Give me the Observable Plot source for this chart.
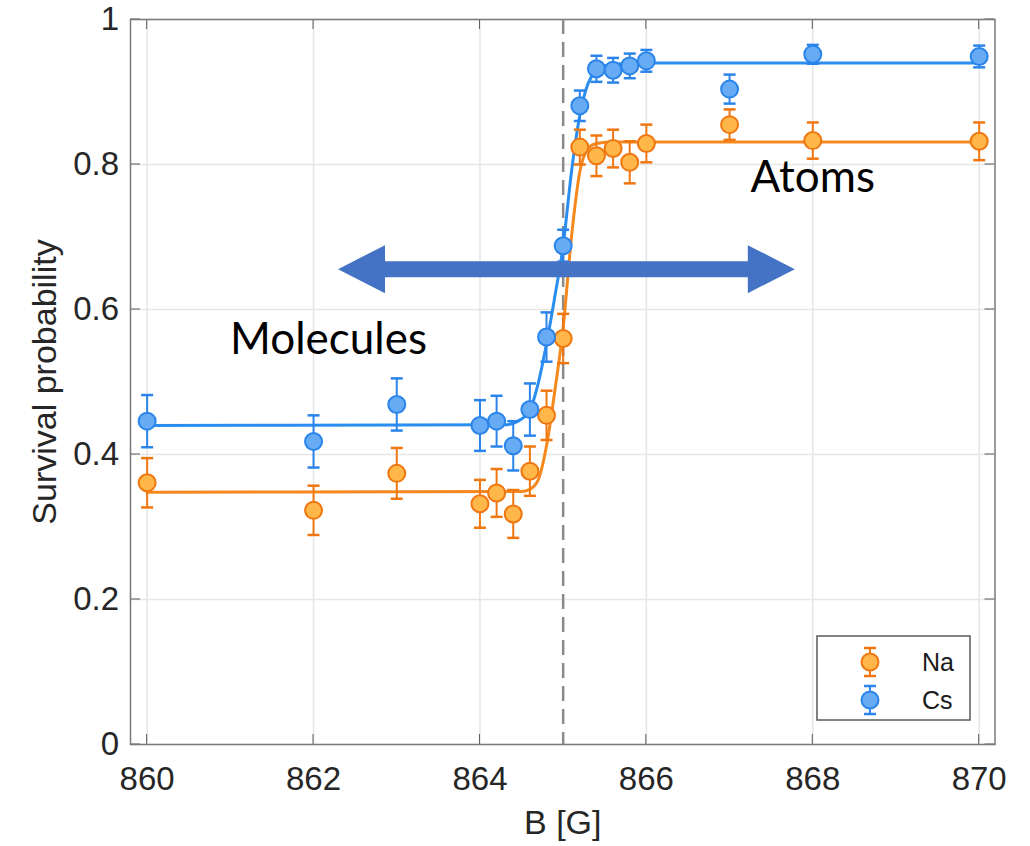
<!DOCTYPE html>
<html>
<head>
<meta charset="utf-8">
<script src="https://cdn.jsdelivr.net/npm/d3@7"></script>
<script src="https://cdn.jsdelivr.net/npm/@observablehq/plot@0.6"></script>
<style>
  body { margin: 0; background: #fff; }
  #chart svg { display: block; }
</style>
</head>
<body>
<div id="chart"></div>
<script>
// ---- data ----
const B_field = [860, 862, 863, 864, 864.2, 864.4, 864.6, 864.8, 865, 865.2, 865.4, 865.6, 865.8, 866, 867, 868, 870];
const Na_survival = [0.361, 0.323, 0.374, 0.332, 0.347, 0.318, 0.377, 0.454, 0.560, 0.824, 0.812, 0.822, 0.803, 0.829, 0.855, 0.833, 0.832];
const Na_error    = [0.034, 0.034, 0.035, 0.033, 0.033, 0.033, 0.034, 0.034, 0.034, 0.024, 0.028, 0.026, 0.029, 0.026, 0.021, 0.025, 0.026];
const Cs_survival = [0.446, 0.418, 0.469, 0.440, 0.446, 0.412, 0.462, 0.562, 0.688, 0.881, 0.932, 0.930, 0.936, 0.943, 0.904, 0.952, 0.949];
const Cs_error    = [0.036, 0.036, 0.036, 0.035, 0.035, 0.034, 0.036, 0.034, 0.022, 0.021, 0.018, 0.017, 0.017, 0.015, 0.020, 0.013, 0.015];

// fitted curves
const Na_fit_B = [860, 864.5, 864.6, 864.7, 864.8, 864.9, 865.0, 865.1, 865.2, 865.3, 865.4, 865.6, 866, 870];
const Na_fit_P = [0.348, 0.349, 0.352, 0.365, 0.412, 0.488, 0.575, 0.700, 0.790, 0.822, 0.829, 0.831, 0.831, 0.831];
const Cs_fit_B = [860, 864.3, 864.5, 864.6, 864.7, 864.8, 864.9, 865.0, 865.1, 865.2, 865.3, 865.4, 865.5, 865.7, 866, 870];
const Cs_fit_P = [0.440, 0.441, 0.449, 0.461, 0.498, 0.553, 0.618, 0.688, 0.790, 0.868, 0.912, 0.930, 0.936, 0.939, 0.940, 0.940];

const resonance_B = [865];
const xTicks = [860, 862, 864, 866, 868, 870];
const yTicks = [0, 0.2, 0.4, 0.6, 0.8, 1];
const yTickLabels = ["0", "0.2", "0.4", "0.6", "0.8", "1"];
const seriesNames = ["Na", "Cs"];
const annotations = [
  {label: "Molecules", B: 862.18, P: 0.558},
  {label: "Atoms", B: 868.0, P: 0.781}
];
const arrowSpan = {B1: 862.30, B2: 867.79, P: 0.655};

// ---- styles ----
const colors = {
  Na: {line: "#f5891e", edge: "#f0760f", fill: "#ffb74a"},
  Cs: {line: "#2a8ef0", edge: "#2a84ea", fill: "#66abf4"}
};
const font = "'Liberation Sans', Arial, Helvetica, sans-serif";
const xDomain = [859.80, 870.19];

// ---- tables ----
const Na = B_field.map((b, i) => ({B: b, P: Na_survival[i], lo: Na_survival[i] - Na_error[i], hi: Na_survival[i] + Na_error[i]}));
const Cs = B_field.map((b, i) => ({B: b, P: Cs_survival[i], lo: Cs_survival[i] - Cs_error[i], hi: Cs_survival[i] + Cs_error[i]}));
const NaFit = Na_fit_B.map((b, i) => ({B: b, P: Na_fit_P[i]}));
const CsFit = Cs_fit_B.map((b, i) => ({B: b, P: Cs_fit_P[i]}));

const capSymbol = {draw(ctx) { ctx.moveTo(-6, 0); ctx.lineTo(6, 0); }};

function seriesMarks(data, c) {
  return [
    Plot.ruleX(data, {x: "B", y1: "lo", y2: "hi", stroke: c.edge, strokeWidth: 2}),
    Plot.dot(data, {x: "B", y: "hi", symbol: capSymbol, r: 4, stroke: c.edge, strokeWidth: 2.5, fill: "none"}),
    Plot.dot(data, {x: "B", y: "lo", symbol: capSymbol, r: 4, stroke: c.edge, strokeWidth: 2.5, fill: "none"}),
  ];
}
function dotMarks(data, c) {
  return Plot.dot(data, {x: "B", y: "P", r: 8.5, fill: c.fill, stroke: c.edge, strokeWidth: 2});
}

const svgNS = "http://www.w3.org/2000/svg";
function el(tag, attrs, text) {
  const e = document.createElementNS(svgNS, tag);
  for (const k in attrs) e.setAttribute(k, attrs[k]);
  if (text != null) e.textContent = text;
  return e;
}

// inward ticks on all four sides, placed through the scales
function tickMarks(index, scales, values, dimensions) {
  const g = el("g", {stroke: "#5a5a5a", "stroke-width": 1});
  const top = dimensions.marginTop, bottom = dimensions.height - dimensions.marginBottom;
  const left = dimensions.marginLeft, right = dimensions.width - dimensions.marginRight;
  const L = 10;
  for (const t of xTicks) {
    const x = scales.x(t);
    g.appendChild(el("line", {x1: x, x2: x, y1: bottom, y2: bottom - L}));
    g.appendChild(el("line", {x1: x, x2: x, y1: top, y2: top + L}));
  }
  for (const t of yTicks) {
    const y = scales.y(t);
    g.appendChild(el("line", {x1: left, x2: left + L, y1: y, y2: y}));
    g.appendChild(el("line", {x1: right, x2: right - L, y1: y, y2: y}));
  }
  return g;
}

// double-headed arrow drawn through the scales
function arrowMark(index, scales) {
  const x1 = scales.x(arrowSpan.B1), x2 = scales.x(arrowSpan.B2), y = scales.y(arrowSpan.P);
  const hl = 47, hh = 24, sh = 8;
  const pts = [
    [x1, y], [x1 + hl, y - hh], [x1 + hl, y - sh], [x2 - hl, y - sh], [x2 - hl, y - hh],
    [x2, y], [x2 - hl, y + hh], [x2 - hl, y + sh], [x1 + hl, y + sh], [x1 + hl, y + hh]
  ];
  return el("polygon", {points: pts.map(p => p.join(",")).join(" "), fill: "#4472c4"});
}

// legend box
function legendMark(index, scales, values, dimensions) {
  const g = el("g", {});
  const right = dimensions.width - dimensions.marginRight - 24.5;
  const bottom = dimensions.height - dimensions.marginBottom - 24;
  const w = 153, h = 84;
  const left = right - w, top = bottom - h;
  g.appendChild(el("rect", {x: left, y: top, width: w, height: h, fill: "#fff", stroke: "#5a5a5a", "stroke-width": 1.5}));
  seriesNames.forEach((name, i) => {
    const c = colors[name];
    const cy = top + 26 + i * 38, cx = left + 53;
    g.appendChild(el("line", {x1: cx, x2: cx, y1: cy - 14, y2: cy + 14, stroke: c.edge, "stroke-width": 2}));
    g.appendChild(el("line", {x1: cx - 6, x2: cx + 6, y1: cy - 14, y2: cy - 14, stroke: c.edge, "stroke-width": 2.5}));
    g.appendChild(el("line", {x1: cx - 6, x2: cx + 6, y1: cy + 14, y2: cy + 14, stroke: c.edge, "stroke-width": 2.5}));
    g.appendChild(el("circle", {cx, cy, r: 8.5, fill: c.fill, stroke: c.edge, "stroke-width": 2}));
    g.appendChild(el("text", {x: left + 105, y: cy, dy: "0.36em", "text-anchor": "start", "font-size": 25, "font-family": font, fill: "#1a1a1a"}, name));
  });
  return g;
}

const chart = Plot.plot({
  width: 1030,
  height: 846,
  marginLeft: 130,
  marginRight: 35.5,
  marginTop: 19,
  marginBottom: 102,
  style: {fontFamily: font, fontSize: "33px", color: "#262626", background: "#fff"},
  x: {domain: xDomain},
  y: {domain: [0, 1]},
  marks: [
    Plot.gridX(xTicks, {stroke: "#e6e6e6", strokeOpacity: 1, strokeWidth: 1.5}),
    Plot.gridY(yTicks, {stroke: "#e6e6e6", strokeOpacity: 1, strokeWidth: 1.5}),
    tickMarks,
    Plot.frame({stroke: "#7a7a7a", strokeWidth: 1.5}),
    Plot.axisX({ticks: xTicks, tickSize: 0, tickPadding: 22, label: null}),
    Plot.axisY({ticks: yTicks, tickSize: 0, tickPadding: 11.5, label: null, tickFormat: (d) => yTickLabels[yTicks.indexOf(d)]}),
    Plot.text(["Survival probability"], {frameAnchor: "left", textAnchor: "middle", dx: -85, rotate: -90, fontSize: 34, fill: "#262626"}),
    Plot.text(["B [G]"], {frameAnchor: "bottom", dy: 89, fontSize: 34, fill: "#262626"}),
    Plot.ruleX(resonance_B, {stroke: "#8a8a8a", strokeWidth: 2.5, strokeDasharray: "15,8"}),
    Plot.line(NaFit, {x: "B", y: "P", stroke: colors.Na.line, strokeWidth: 3, curve: "monotone-x"}),
    Plot.line(CsFit, {x: "B", y: "P", stroke: colors.Cs.line, strokeWidth: 3, curve: "monotone-x"}),
    ...seriesMarks(Na, colors.Na),
    ...seriesMarks(Cs, colors.Cs),
    dotMarks(Na, colors.Na),
    dotMarks(Cs, colors.Cs),
    arrowMark,
    Plot.text(annotations, {x: "B", y: "P", text: "label", fontSize: 44, fontFamily: "Lato, 'Open Sans', sans-serif", fill: "#000", lineAnchor: "middle"}),
    legendMark
  ]
});
document.getElementById("chart").appendChild(chart);
</script>
</body>
</html>
